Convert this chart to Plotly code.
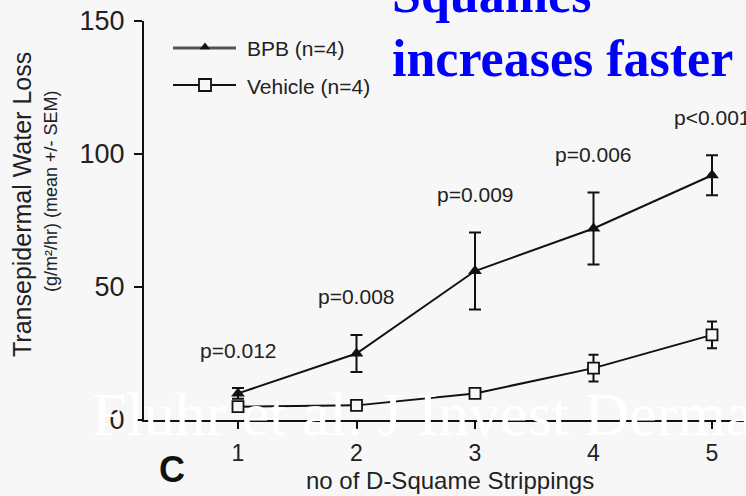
import plotly.graph_objects as go

# ---- data ----
strippings = [1, 2, 3, 4, 5]
bpb_mean = [10, 25, 56, 72, 92]
bpb_sem = [2, 7, 14.5, 13.5, 7.5]
veh_mean = [5, 5.5, 10, 19.5, 32]
veh_sem = [1.5, 1.5, 1.5, 5, 5]
p_labels = ["p=0.012", "p=0.008", "p=0.009", "p=0.006", "p<0.001"]
y_ticks = [0, 50, 100, 150]

W, H = 746, 496
L, R, T, B = 144, 0, 21, 76
PW, PH = W - L - R, H - T - B


def px(x):
    return (x - L) / PW


def py(y):
    return (H - B - y) / PH


BG = "#f7f7f7"
SANS = "Liberation Sans, Arial, sans-serif"
SERIF = "Liberation Serif, Times New Roman, serif"

fig = go.Figure()

fig.add_trace(go.Scatter(
    x=strippings, y=veh_mean, mode="lines+markers",
    line=dict(color="#111", width=2),
    marker=dict(symbol="square", size=11, color=BG, line=dict(color="#111", width=1.8)),
    error_y=dict(type="data", array=veh_sem, color="#111", thickness=2, width=5),
    showlegend=False, cliponaxis=False,
))
fig.add_trace(go.Scatter(
    x=strippings, y=bpb_mean, mode="lines+markers",
    line=dict(color="#111", width=2),
    marker=dict(symbol="triangle-up", size=12, color="#111"),
    error_y=dict(type="data", array=bpb_sem, color="#111", thickness=2, width=6),
    showlegend=False, cliponaxis=False,
))

# legend drawn by hand (pixel-space overlay axes)
fig.add_trace(go.Scatter(
    x=[173, 236], y=[48, 48], mode="lines", line=dict(color="#555", width=3),
    xaxis="x2", yaxis="y2", showlegend=False, hoverinfo="skip"))
fig.add_trace(go.Scatter(
    x=[205], y=[47], mode="markers", marker=dict(symbol="triangle-up", size=9, color="#111"),
    xaxis="x2", yaxis="y2", showlegend=False, hoverinfo="skip"))
fig.add_trace(go.Scatter(
    x=[173, 236], y=[85, 85], mode="lines", line=dict(color="#111", width=2),
    xaxis="x2", yaxis="y2", showlegend=False, hoverinfo="skip"))
fig.add_trace(go.Scatter(
    x=[205], y=[85], mode="markers",
    marker=dict(symbol="square", size=12, color=BG, line=dict(color="#111", width=1.8)),
    xaxis="x2", yaxis="y2", showlegend=False, hoverinfo="skip"))

ann = []
ann.append(dict(x=px(245), y=py(48), xref="paper", yref="paper", text="BPB (n=4)",
                showarrow=False, xanchor="left", yanchor="middle",
                font=dict(family=SANS, size=21, color="#222")))
ann.append(dict(x=px(245), y=py(86), xref="paper", yref="paper", text="Vehicle (n=4)",
                showarrow=False, xanchor="left", yanchor="middle",
                font=dict(family=SANS, size=21, color="#222")))

# p-value labels above BPB error bars
for xi, m, e, lab in zip(strippings, bpb_mean, bpb_sem, p_labels):
    ann.append(dict(x=xi, y=m + e, xref="x", yref="y", text=lab, showarrow=False,
                    yshift=38, xanchor="center", yanchor="middle",
                    font=dict(family=SANS, size=21, color="#222")))

# y-axis titles
ann.append(dict(x=px(22), y=py(205), xref="paper", yref="paper",
                text="Transepidermal Water Loss", textangle=-90, showarrow=False,
                xanchor="center", yanchor="middle",
                font=dict(family=SANS, size=25, color="#222")))
ann.append(dict(x=px(51), y=py(191), xref="paper", yref="paper",
                text="(g/m²/hr) (mean +/- SEM)", textangle=-90, showarrow=False,
                xanchor="center", yanchor="middle",
                font=dict(family=SANS, size=18, color="#222")))
# x title and panel letter
ann.append(dict(x=px(450), y=py(480), xref="paper", yref="paper",
                text="no of D-Squame Strippings", showarrow=False,
                xanchor="center", yanchor="middle",
                font=dict(family=SANS, size=24, color="#222")))
ann.append(dict(x=px(172), y=py(470), xref="paper", yref="paper",
                text="<b>C</b>", showarrow=False, xanchor="center", yanchor="middle",
                font=dict(family=SANS, size=36, color="#111")))
# blue headline
ann.append(dict(x=px(390), y=py(-5), xref="paper", yref="paper",
                text="<b>Squames</b>", showarrow=False, xanchor="left", yanchor="middle",
                font=dict(family=SERIF, size=52, color="#0000ff")))
ann.append(dict(x=px(390), y=py(58), xref="paper", yref="paper",
                text="<b>increases faster</b>", showarrow=False, xanchor="left", yanchor="middle",
                font=dict(family=SERIF, size=52, color="#0000ff")))
# watermark
ann.append(dict(x=px(90), y=py(414), xref="paper", yref="paper",
                text="Fluhr et al. J Invest Dermatol", showarrow=False,
                xanchor="left", yanchor="middle",
                font=dict(family=SERIF, size=62, color="#ffffff")))

x0 = 1 - (238 - L) / 118.5
x1 = x0 + PW / 118.5

fig.update_layout(
    width=W, height=H,
    margin=dict(l=L, r=R, t=T, b=B, pad=0),
    paper_bgcolor=BG, plot_bgcolor=BG,
    annotations=ann,
    xaxis=dict(range=[x0, x1], tickvals=strippings, ticktext=[str(s) for s in strippings],
               showgrid=False, zeroline=False, showline=True, linecolor="#111", linewidth=2,
               ticks="outside", ticklen=7, tickwidth=2, tickcolor="#111",
               tickfont=dict(family=SANS, size=23, color="#222"), ticklabelstandoff=4),
    yaxis=dict(range=[0, 150], tickvals=y_ticks, showgrid=False, zeroline=False,
               showline=True, linecolor="#111", linewidth=2,
               ticks="outside", ticklen=8, tickwidth=2, tickcolor="#111",
               tickfont=dict(family=SANS, size=27, color="#222"), ticklabelstandoff=4),
    xaxis2=dict(range=[L, W - R], overlaying="x", visible=False, fixedrange=True),
    yaxis2=dict(range=[H - B, T], overlaying="y", visible=False, fixedrange=True),
)

fig.write_html("out.html", config={"displayModeBar": False},
               post_script="document.body.style.margin='0';document.body.style.background='%s';" % BG)
